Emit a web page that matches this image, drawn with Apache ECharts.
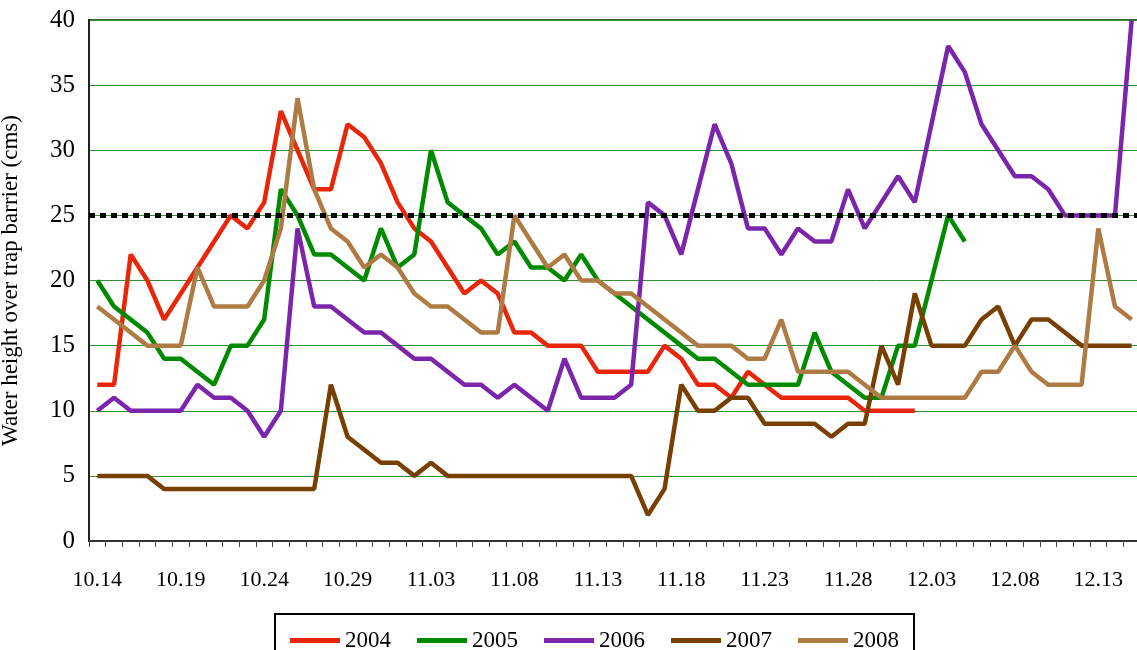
<!DOCTYPE html>
<html style="height: 100%">
   <head>
       <meta charset="utf-8">
       <script type="text/javascript" src="https://cdn.jsdelivr.net/npm/echarts@6.0.0/dist/echarts.min.js"></script>
   </head>
   <body style="height: 100%; width:100%; margin: 0; background: #fff">
       <div id="chart" style="width: 1137px; height: 650px;"></div>

       <script type="text/javascript">

// days from 10.14 to 12.15
var dates = ['10.14','10.15','10.16','10.17','10.18','10.19','10.20','10.21','10.22','10.23',
             '10.24','10.25','10.26','10.27','10.28','10.29','10.30','10.31','11.01','11.02',
             '11.03','11.04','11.05','11.06','11.07','11.08','11.09','11.10','11.11','11.12',
             '11.13','11.14','11.15','11.16','11.17','11.18','11.19','11.20','11.21','11.22',
             '11.23','11.24','11.25','11.26','11.27','11.28','11.29','11.30','12.01','12.02',
             '12.03','12.04','12.05','12.06','12.07','12.08','12.09','12.10','12.11','12.12',
             '12.13','12.14','12.15'];

var years = ['2004','2005','2006','2007','2008'];

var y2004 = [12,12,22,20,17,19,21,23,25,24,
             26,33,30,27,27,32,31,29,26,24,
             23,21,19,20,19,16,16,15,15,15,
             13,13,13,13,15,14,12,12,11,13,
             12,11,11,11,11,11,10,10,10,10];

var y2005 = [20,18,17,16,14,14,13,12,15,15,
             17,27,25,22,22,21,20,24,21,22,
             30,26,25,24,22,23,21,21,20,22,
             20,19,18,17,16,15,14,14,13,12,
             12,12,12,16,13,12,11,11,15,15,
             20,25,23];

var y2006 = [10,11,10,10,10,10,12,11,11,10,
             8,10,24,18,18,17,16,16,15,14,
             14,13,12,12,11,12,11,10,14,11,
             11,11,12,26,25,22,27,32,29,24,
             24,22,24,23,23,27,24,26,28,26,
             32,38,36,32,30,28,28,27,25,25,
             25,25,40];

var y2007 = [5,5,5,5,4,4,4,4,4,4,
             4,4,4,4,12,8,7,6,6,5,
             6,5,5,5,5,5,5,5,5,5,
             5,5,5,2,4,12,10,10,11,11,
             9,9,9,9,8,9,9,15,12,19,
             15,15,15,17,18,15,17,17,16,15,
             15,15,15];

var y2008 = [18,17,16,15,15,15,21,18,18,18,
             20,24,34,27,24,23,21,22,21,19,
             18,18,17,16,16,25,23,21,22,20,
             20,19,19,18,17,16,15,15,15,14,
             14,17,13,13,13,13,12,11,11,11,
             11,11,11,13,13,15,13,12,12,12,
             24,18,17];

// level of the trap barrier
var barrier = 25;

var colors = ['#e8270a', '#008a00', '#7b26aa', '#774000', '#ae7b45'];
var font = '"Liberation Serif", "DejaVu Serif", serif';

var myChart = echarts.init(document.getElementById('chart'));

function lineSeries(name, data) {
    return {
        name: name,
        type: 'line',
        data: data,
        symbol: 'none',
        smooth: false,
        lineStyle: { width: 4.5 }
    };
}

var series = [
    lineSeries(years[0], y2004),
    lineSeries(years[1], y2005),
    lineSeries(years[2], y2006),
    lineSeries(years[3], y2007),
    lineSeries(years[4], y2008)
];

// dotted barrier line on top of the last series
series[4].markLine = {
    silent: true,
    symbol: ['none', 'none'],
    label: { show: false },
    lineStyle: { color: '#000', width: 5, type: [6, 5] },
    data: [ { yAxis: barrier } ]
};

var option = {
    animation: false,
    color: colors,
    grid: {
        left: 89,
        right: -3,
        top: 20,
        bottom: 109,
        show: true,
        borderColor: '#3a5f3a',
        borderWidth: 2,
        outerBoundsMode: 'none'
    },
    legend: {
        data: years,
        left: 275,
        top: 614,
        icon: 'rect',
        itemWidth: 50,
        itemHeight: 5,
        itemGap: 26,
        padding: [15, 15, 15, 15],
        borderColor: '#000',
        borderWidth: 2,
        textStyle: { fontFamily: font, fontSize: 23, color: '#000' }
    },
    xAxis: {
        type: 'category',
        data: dates,
        boundaryGap: true,
        axisLine: { lineStyle: { color: '#333', width: 2 } },
        axisTick: { show: true, interval: 0, length: 6, lineStyle: { color: '#444' } },
        axisLabel: {
            interval: 4,
            margin: 28,
            fontFamily: font,
            fontSize: 22,
            color: '#000'
        },
        splitLine: { show: false }
    },
    yAxis: {
        type: 'value',
        min: 0,
        max: 40,
        interval: 5,
        name: 'Water height over trap barrier (cms)',
        nameLocation: 'middle',
        nameGap: 67,
        nameTextStyle: { fontFamily: font, fontSize: 23, color: '#000' },
        axisLine: { show: true, lineStyle: { color: '#222', width: 2 } },
        axisTick: { show: false },
        axisLabel: {
            margin: 14,
            fontFamily: font,
            fontSize: 25,
            color: '#000'
        },
        splitLine: { show: true, lineStyle: { color: '#2e922e', width: 1 } }
    },
    series: series
};

myChart.setOption(option);

       </script>
   </body>
</html>
